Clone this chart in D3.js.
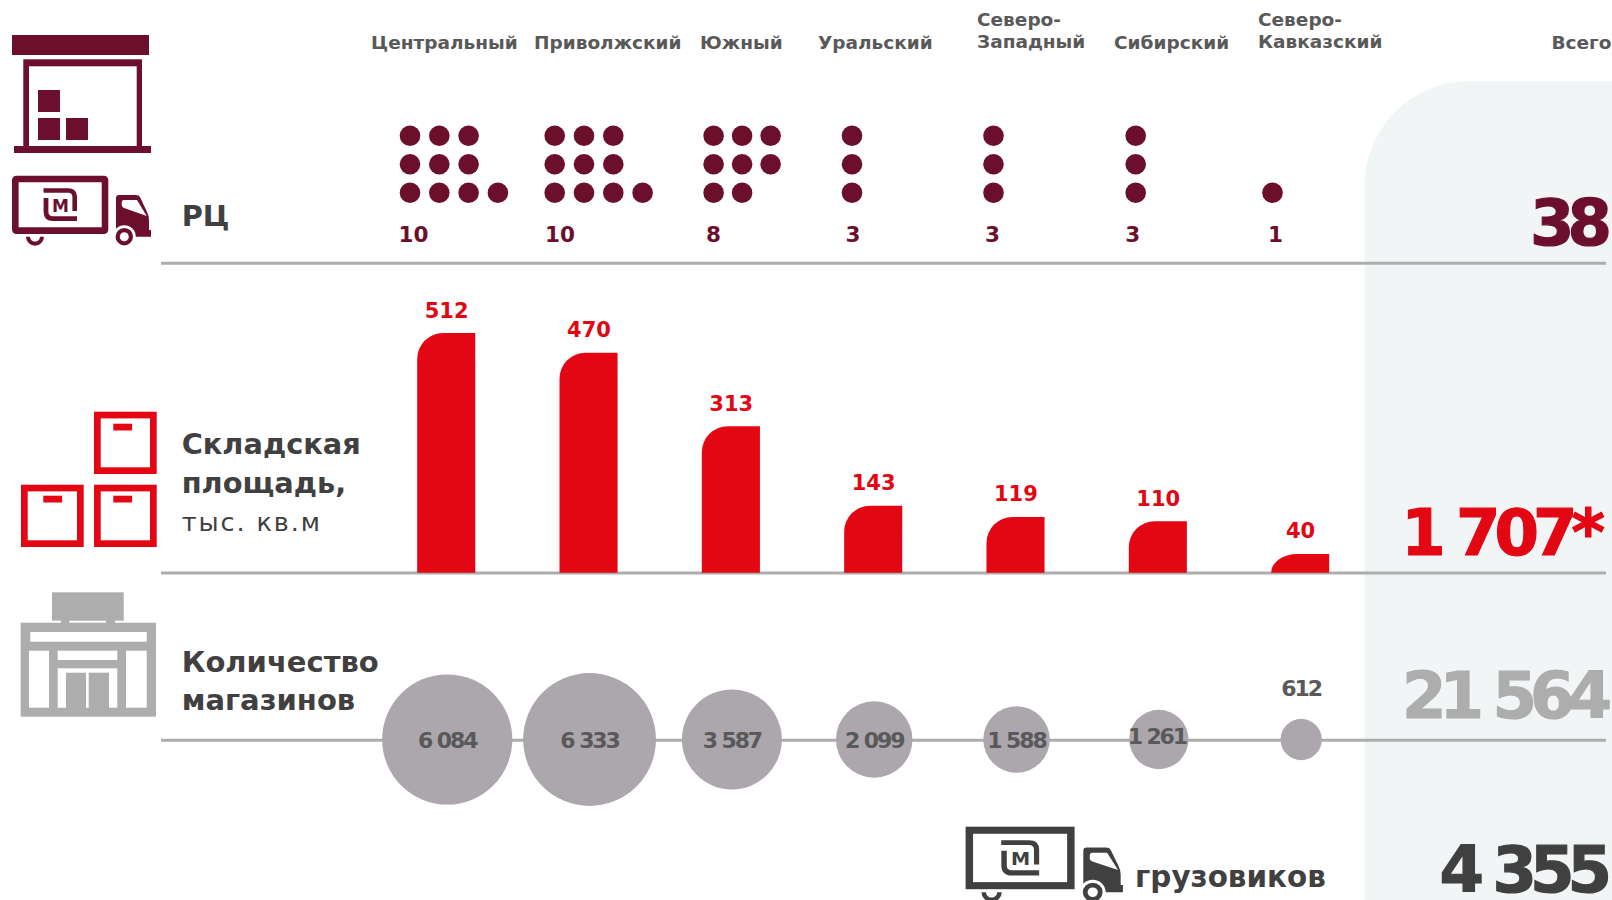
<!DOCTYPE html>
<meta charset="utf-8">
<style>

html, body { margin: 0; padding: 0; background: #fff; overflow: hidden; }

svg { display: block; font-family: "DejaVu Sans", sans-serif; }

.head { fill: #595959; font-size: 18.5px; font-weight: bold; }
.rowtitle { fill: #404040; font-size: 28.8px; font-weight: bold; }
.rowsub { fill: #404040; font-size: 25.5px; letter-spacing: 1.9px; }
.dc-label { fill: #6b0f2d; font-size: 21.5px; font-weight: bold; text-anchor: middle; }
.bar-label { fill: #e30613; font-size: 21px; font-weight: bold; text-anchor: middle; }
.store-label { fill: #595959; font-size: 22px; font-weight: bold; text-anchor: middle; letter-spacing: -2.1px; }
.total { font-size: 64px; font-weight: bold; text-anchor: end; stroke-width: 1.2px; }

</style>
<svg class="chart"></svg>
<script src="https://d3js.org/d3.v7.min.js"></script>
<script>

var width = 1612,
    height = 900;

// data
var regions = ["Центральный", "Приволжский", "Южный", "Уральский", "Северо-Западный", "Сибирский", "Северо-Кавказский"];
var headLines = [["Центральный"], ["Приволжский"], ["Южный"], ["Уральский"], ["Северо-", "Западный"], ["Сибирский"], ["Северо-", "Кавказский"]];
var dcCounts = [10, 10, 8, 3, 3, 3, 1];
var warehouseArea = [512, 470, 313, 143, 119, 110, 40];
var storeCounts = [6084, 6333, 3587, 2099, 1588, 1261, 612];
var storeLabels = ["6 084", "6 333", "3 587", "2 099", "1 588", "1 261", "612"];
var totalLabels = ["38", "1 707*", "21 564", "4 355"];

var dark = "#6b0f2d", red = "#e30613", grey = "#adadad", ink = "#404040";

var svg = d3.select(".chart")
    .attr("width", width)
    .attr("height", height);

// scales
var x = d3.scaleBand()
    .domain(regions)
    .range([417.2, 1329.2])
    .paddingInner(0.592)
    .paddingOuter(0);

var y = d3.scaleLinear()
    .domain([0, 512])
    .range([572.7, 333]);

var r = d3.scaleSqrt()
    .domain([0, 6333])
    .range([0, 66.4]);

var headX = d3.scaleOrdinal().domain(regions).range([371, 534, 700, 818, 977, 1114, 1258]);
var dotX = d3.scaleOrdinal().domain(regions).range([410, 554.7, 713.6, 852, 993.5, 1135.7, 1272.5]);
var dotStep = d3.scaleOrdinal().domain(regions).range([29.3, 29.3, 28.5, 29.3, 29.3, 29.3, 29.3]);
var dcLabelX = d3.scaleOrdinal().domain(regions).range([413.5, 560, 713.6, 853, 992.6, 1132.8, 1275.5]);
var dotRowY = d3.scalePoint().domain([0, 1, 2]).range([135.7, 192.7]);

// background panel for the totals
svg.append("path")
    .attr("d", "M1364.5,900V186A105,105 0 0 1 1469.5,81H1612V900Z")
    .attr("fill", "#f1f5f6");

// divider lines
svg.selectAll(".rule")
    .data([263.3, 573, 740.3])
  .enter().append("line")
    .attr("class", "rule")
    .attr("x1", 161)
    .attr("x2", 1606)
    .attr("y1", function(d) { return d; })
    .attr("y2", function(d) { return d; })
    .attr("stroke", grey)
    .attr("stroke-width", 3);

// region names
var head = svg.selectAll(".head")
    .data(regions)
  .enter().append("text")
    .attr("class", "head");

head.selectAll("tspan")
    .data(function(d, i) {
      return headLines[i].map(function(t, k) { return {region: d, text: t, n: headLines[i].length, k: k}; });
    })
  .enter().append("tspan")
    .attr("x", function(d) { return headX(d.region); })
    .attr("y", function(d) { return d.n > 1 ? 26 + d.k * 22 : 49; })
    .text(function(d) { return d.text; });

svg.append("text").attr("class", "head").attr("x", 1551.5).attr("y", 49).text("Всего");

// dots: one per distribution centre, two even rows on top, the rest on the bottom row
function dotCells(n, region) {
  var top = Math.round(n / 3), rows = [top, top, n - 2 * top], cells = [];
  rows.forEach(function(c, row) {
    d3.range(c).forEach(function(col) { cells.push({region: region, row: row, col: col}); });
  });
  return cells;
}

svg.selectAll(".dots")
    .data(dcCounts)
  .enter().append("g")
    .attr("class", "dots")
    .selectAll("circle")
    .data(function(d, i) { return dotCells(d, regions[i]); })
  .enter().append("circle")
    .attr("cx", function(d) { return dotX(d.region) + d.col * dotStep(d.region); })
    .attr("cy", function(d) { return dotRowY(d.row); })
    .attr("r", 10.3)
    .attr("fill", dark);

svg.selectAll(".dc-label")
    .data(dcCounts)
  .enter().append("text")
    .attr("class", "dc-label")
    .attr("x", function(d, i) { return dcLabelX(regions[i]); })
    .attr("y", 242.3)
    .text(function(d) { return d; });

// bars, only the top left corner is rounded
function barPath(d, i) {
  var x0 = x(regions[i]), x1 = x0 + x.bandwidth(), top = y(d), base = y(0),
      rx = 26, ry = Math.min(26, base - top);
  return "M" + x0 + "," + base + "V" + (top + ry) +
      "A" + rx + "," + ry + " 0 0 1 " + (x0 + rx) + "," + top +
      "H" + x1 + "V" + base + "Z";
}

svg.selectAll(".bar")
    .data(warehouseArea)
  .enter().append("path")
    .attr("class", "bar")
    .attr("d", barPath)
    .attr("fill", red);

svg.selectAll(".bar-label")
    .data(warehouseArea)
  .enter().append("text")
    .attr("class", "bar-label")
    .attr("x", function(d, i) { return x(regions[i]) + x.bandwidth() / 2 + 0.4; })
    .attr("y", function(d) { return y(d) - 15.5; })
    .text(function(d) { return d; });

// stores
var cx = function(i) { return x(regions[i]) + x.bandwidth() / 2 + 1; };

svg.selectAll(".store")
    .data(storeCounts)
  .enter().append("circle")
    .attr("class", "store")
    .attr("cx", function(d, i) { return cx(i); })
    .attr("cy", 739.5)
    .attr("r", function(d) { return r(d); })
    .attr("fill", "#aba7ac");

svg.selectAll(".store-label")
    .data(storeCounts)
  .enter().append("text")
    .attr("class", "store-label")
    .attr("x", function(d, i) { return cx(i) - (d === 1261 ? 2 : 0); })
    .attr("y", function(d) {
      if (d < 1000) return 696;
      return d === 1261 ? 743.5 : 747.5;
    })
    .text(function(d, i) { return storeLabels[i]; });

// totals
var totalStyle = [
  {x: 1605, y: 245, c: dark, s: -7},
  {x: 1599, y: 555, c: red, s: -6},
  {x: 1605, y: 718, c: grey, s: -7},
  {x: 1605, y: 892, c: ink, s: -7}
];

svg.selectAll(".total")
    .data(totalLabels)
  .enter().append("text")
    .attr("class", "total")
    .attr("x", function(d, i) { return totalStyle[i].x; })
    .attr("y", function(d, i) { return totalStyle[i].y; })
    .attr("fill", function(d, i) { return totalStyle[i].c; })
    .attr("stroke", function(d, i) { return totalStyle[i].c; })
    .style("letter-spacing", function(d, i) { return totalStyle[i].s + "px"; })
    .text(function(d) { return d; });

// row titles
function title(cls, px, py, t) {
  return svg.append("text").attr("class", cls).attr("x", px).attr("y", py).text(t);
}
title("rowtitle", 181.7, 226, "РЦ");
title("rowtitle", 181.7, 454, "Складская");
title("rowtitle", 181.7, 493, "площадь,");
title("rowsub", 181.7, 530.7, "тыс. кв.м");
title("rowtitle", 181.7, 671.7, "Количество").style("font-size", "29px");
title("rowtitle", 181.7, 710, "магазинов").style("font-size", "29px");
title("rowtitle", 1135, 887, "грузовиков").style("font-size", "29.4px");

// icons
function block(g, x0, y0, x1, y1, fill) {
  return g.append("rect")
      .attr("x", x0).attr("y", y0)
      .attr("width", x1 - x0).attr("height", y1 - y0)
      .attr("fill", fill);
}

// warehouse
var wh = svg.append("g");
block(wh, 12, 35, 149, 55, dark);
block(wh, 23.3, 59.3, 142, 147, dark);
block(wh, 29, 66.3, 136.7, 147, "#fff");
block(wh, 14, 146, 151, 153, dark);
block(wh, 38, 90, 60, 112, dark);
block(wh, 38, 118, 60, 140, dark);
block(wh, 66, 118, 88, 140, dark);

// truck, drawn in the coordinates of the top left one
function truck(tx, ty, sx, sy, color, corner) {
  var g = svg.append("g")
      .attr("transform", "translate(" + tx + "," + ty + ") scale(" + sx + "," + sy + ")");
  g.append("rect")
      .attr("x", 15.3).attr("y", 179).attr("width", 89.7).attr("height", 51.6)
      .attr("rx", corner)
      .attr("fill", "#fff")
      .attr("stroke", color)
      .attr("stroke-width", 6.6);
  g.append("path")
      .attr("d", "M43.5,190.5H68Q74.7,190.5 74.7,197V211")
      .attr("fill", "none").attr("stroke", color).attr("stroke-width", 4.6);
  g.append("path")
      .attr("d", "M77,218.7H53Q46,218.7 46,211.5V198")
      .attr("fill", "none").attr("stroke", color).attr("stroke-width", 4.8);
  g.append("text")
      .attr("x", 60.5).attr("y", 211.5)
      .attr("text-anchor", "middle")
      .attr("font-size", 17).attr("font-weight", "bold")
      .attr("fill", color)
      .text("М");
  g.append("path")
      .attr("transform", "translate(35,236.7)")
      .attr("fill", color)
      .attr("d", d3.arc().innerRadius(5).outerRadius(9).startAngle(Math.PI / 2).endAngle(Math.PI * 1.5)());
  g.append("path")
      .attr("d", "M116,198Q116,195 119,195H136Q139,195 140,197L147,212Q149,216 149,220V230H151V236.7H116Z")
      .attr("fill", color);
  g.append("path")
      .attr("d", "M121.7,203Q121.7,200 124,200H137L146.7,216L124,208Q121.7,207 121.7,205Z")
      .attr("fill", "#fff");
  g.append("circle").attr("cx", 124.3).attr("cy", 236.7).attr("r", 11.5).attr("fill", "#fff");
  g.append("circle").attr("cx", 124.3).attr("cy", 236.7).attr("r", 8.7).attr("fill", color);
  g.append("circle").attr("cx", 124.3).attr("cy", 236.7).attr("r", 4.5).attr("fill", "#fff");
}
truck(0, 0, 1, 1, dark, 1);
truck(952, 638, 1.132, 1.074, ink, 0);

// three red boxes
[[94, 411.7, 113.3, 423.7], [21, 484.7, 43.3, 495.7], [94, 484.7, 113.3, 495.7]].forEach(function(b) {
  svg.append("rect")
      .attr("x", b[0] + 3.35).attr("y", b[1] + 3.35)
      .attr("width", 56).attr("height", 55.6)
      .attr("fill", "#fff")
      .attr("stroke", red)
      .attr("stroke-width", 6.7);
  block(svg, b[2], b[3], b[2] + 18.8, b[3] + 6.8, red);
});

// store
var shop = svg.append("g");
block(shop, 52, 592.3, 123.7, 620.7, grey);
block(shop, 61, 620, 69.3, 623, grey);
block(shop, 106, 620, 115, 623, grey);
block(shop, 20.7, 622.7, 156, 716.7, grey);
block(shop, 30.3, 632, 146.7, 641.7, "#fff");
block(shop, 29, 650.7, 49, 707.7, "#fff");
block(shop, 126, 650.7, 146.7, 707.7, "#fff");
block(shop, 57.7, 650.7, 117.3, 660, "#fff");
block(shop, 57.7, 668.3, 117.3, 707.7, "#fff");
block(shop, 66, 672.7, 86, 708, grey);
block(shop, 88.7, 672.7, 109, 708, grey);

</script>
